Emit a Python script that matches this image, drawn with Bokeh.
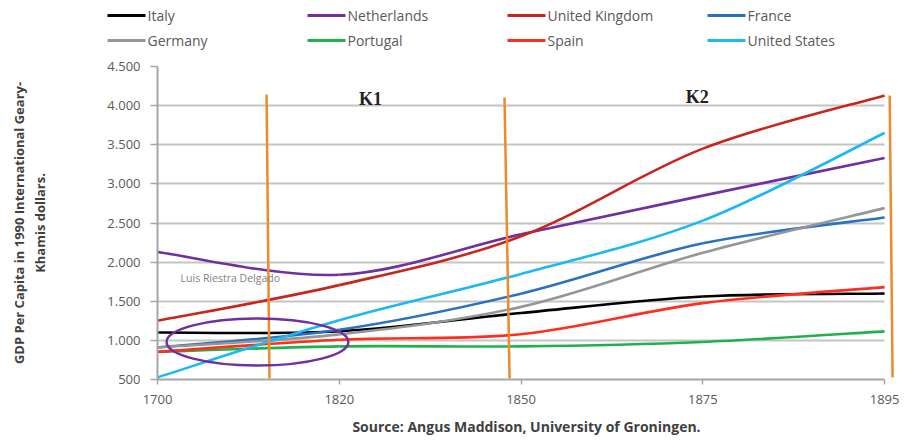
from bokeh.plotting import figure
from bokeh.layouts import column, row
from bokeh.models import Range1d, FixedTicker, Label
from bokeh.core.properties import value
from bokeh.embed import file_html
from bokeh.resources import INLINE

# ---------------- data (GDP per capita, 1990 Int. Geary-Khamis $) ----------------
years = ["1700", "1820", "1850", "1875", "1895"]
italy = [1100, 1117, 1350, 1560, 1600]
netherlands = [2130, 1838, 2355, 2850, 3330]
united_kingdom = [1250, 1706, 2330, 3450, 4130]
france = [910, 1135, 1597, 2240, 2570]
germany = [910, 1077, 1428, 2120, 2690]
portugal = [854, 923, 923, 980, 1115]
spain = [853, 1008, 1079, 1476, 1680]
united_states = [527, 1257, 1849, 2530, 3650]

y_ticks = [500, 1000, 1500, 2000, 2500, 3000, 3500, 4000, 4500]
y_tick_labels = ["500", "1.000", "1.500", "2.000", "2.500", "3.000", "3.500", "4.000", "4.500"]

series = [
    ("Italy", italy, "#000000"),
    ("Netherlands", netherlands, "#7030a0"),
    ("United Kingdom", united_kingdom, "#c8261a"),
    ("France", france, "#2872c4"),
    ("Germany", germany, "#969696"),
    ("Portugal", portugal, "#1fb24a"),
    ("Spain", spain, "#ff2d1e"),
    ("United States", united_states, "#1ab8f5"),
]

FONT = "Open Sans"
LEG_H = 52

# ---------------- legend strip (its own small figure) ----------------
leg = figure(width=905, height=LEG_H, output_backend="svg", toolbar_location=None,
             x_range=Range1d(0, 905), y_range=Range1d(LEG_H, 0),
             x_axis_type=None, y_axis_type=None,
             min_border_left=0, min_border_right=0, min_border_top=0, min_border_bottom=0)
leg.outline_line_color = None
leg.grid.visible = False
lx0, lx1, ly, tx, names, cols = [], [], [], [], [], []
for i, (name, vals, color) in enumerate(series):
    c, r = i % 4, i // 4
    lx0.append(107 + 200 * c)
    lx1.append(145 + 200 * c)
    tx.append(147 + 200 * c)
    ly.append(15 + 25 * r)
    names.append(name)
    cols.append(color)
leg.segment(x0=lx0, y0=ly, x1=lx1, y1=ly, line_color=cols, line_width=3)
leg.text(x=tx, y=ly, text=names, text_font=value(FONT), text_font_size="14px",
         text_color="#595959", text_baseline="middle")

# ---------------- main chart ----------------
p = figure(width=905, height=448 - LEG_H, output_backend="svg", toolbar_location=None,
           x_range=Range1d(0, 4.06), y_range=Range1d(500, 4500),
           min_border_left=157, min_border_right=10, min_border_top=66 - LEG_H,
           min_border_bottom=69)
p.outline_line_color = None
p.background_fill_color = "white"
p.border_fill_color = "white"

x_idx = list(range(len(years)))


def bezier_segments(xs, ys):
    n = len(xs)
    out = dict(x0=[], y0=[], x1=[], y1=[], cx0=[], cy0=[], cx1=[], cy1=[])
    for i in range(n - 1):
        a = i - 1 if i > 0 else i
        d = i + 2 if i + 2 < n else i + 1
        out["x0"].append(xs[i]); out["y0"].append(ys[i])
        out["x1"].append(xs[i + 1]); out["y1"].append(ys[i + 1])
        out["cx0"].append(xs[i] + (xs[i + 1] - xs[a]) / 6.0)
        out["cy0"].append(ys[i] + (ys[i + 1] - ys[a]) / 6.0)
        out["cx1"].append(xs[i + 1] - (xs[d] - xs[i]) / 6.0)
        out["cy1"].append(ys[i + 1] - (ys[d] - ys[i]) / 6.0)
    return out


for name, vals, color in series:
    seg = bezier_segments(x_idx, vals)
    p.bezier(line_color=color, line_width=2.6, **seg)

# ---------------- annotations ----------------
p.segment(x0=[0.600, 1.909, 4.028], y0=[4142, 4104, 4129],
          x1=[0.616, 1.937, 4.044], y1=[513, 513, 525],
          line_color="#f0892d", line_width=2.5)
p.ellipse(x=[0.55], y=[979], width=[1.0], height=[601],
          fill_alpha=0, line_color="#7030a0", line_width=2.5)

for txt, xx, yy in [("K1", 1.172, 4091), ("K2", 2.97, 4104)]:
    p.add_layout(Label(x=xx, y=yy, text=txt, text_font="Liberation Serif",
                       text_font_style="bold", text_font_size="18px", text_color="#222222",
                       text_align="center", text_baseline="middle"))
p.add_layout(Label(x=0.127, y=1791, text="Luis Riestra Delgado", text_font=FONT,
                   text_font_size="10.5px", text_color="#7f7f7f", text_baseline="middle"))

# ---------------- axes ----------------
p.xaxis.ticker = FixedTicker(ticks=x_idx)
p.xaxis.major_label_overrides = {i: y for i, y in enumerate(years)}
p.xaxis.bounds = (0, 4)
p.yaxis.ticker = FixedTicker(ticks=y_ticks)
p.yaxis.major_label_overrides = {t: l for t, l in zip(y_ticks, y_tick_labels)}

for ax in (p.xaxis, p.yaxis):
    ax.axis_line_color = "#a6a6a6"
    ax.axis_line_width = 2
    ax.major_tick_line_color = "#a6a6a6"
    ax.major_tick_line_width = 1.5
    ax.major_tick_in = 0
    ax.minor_tick_line_color = None
    ax.major_label_text_font = FONT
    ax.major_label_text_font_size = "13px"
    ax.major_label_text_color = "#595959"
    ax.axis_label_text_font = FONT
    ax.axis_label_text_font_style = "bold"
    ax.axis_label_text_color = "#404040"

p.yaxis.major_tick_out = 7
p.yaxis.major_label_standoff = 10
p.yaxis.axis_label = "GDP Per Capita in 1990 International Geary-\nKhamis dollars."
p.yaxis.axis_label_text_font_size = "13px"
p.yaxis.axis_label_standoff = 55

p.xaxis.major_tick_out = 5
p.xaxis.major_label_standoff = 10
p.xaxis.axis_label = "Source: Angus Maddison, University of Groningen."
p.xaxis.axis_label_text_font_size = "14px"
p.xaxis.axis_label_standoff = 10

p.xgrid.visible = False
p.ygrid.grid_line_color = "#c4c4c4"
p.ygrid.grid_line_width = 2
p.ygrid.cross_bounds = (0, 4)

layout = column(row(leg, spacing=0), p, spacing=0)
open("out.html", "w").write(file_html(layout, INLINE))
